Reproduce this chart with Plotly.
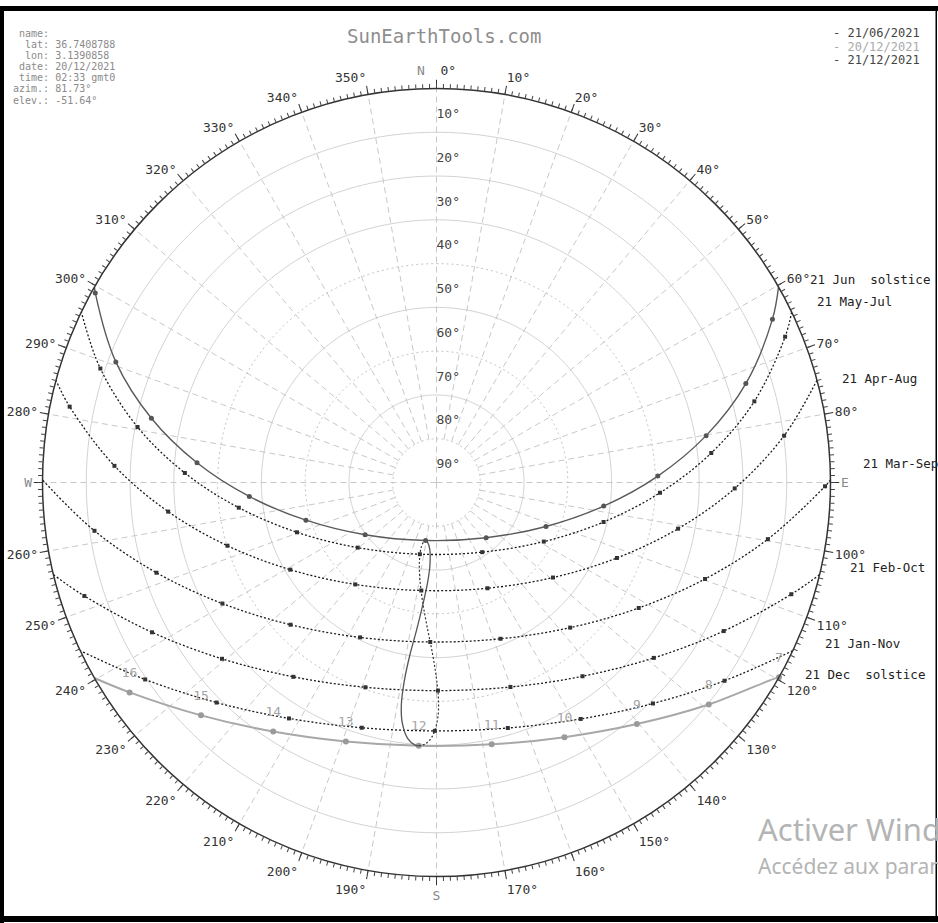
import plotly.graph_objects as go
import numpy as np

FIG_W, FIG_H = 938, 923
CX, CY, R = 436.5, 482.5, 394.0
MONO = "DejaVu Sans Mono"

# ---------------- data (azimuth: deg from N clockwise, elevation: deg) ----------------
# 21 June (solid dark) - hourly points 05..19 UTC
jun_az = [64.07, 72.27, 80.14, 88.34, 98.03, 111.87, 138.04, 190.67, 233.81, 253.90, 265.74, 274.71, 282.70, 290.61, 299.06]
jun_el = [4.67, 15.82, 27.49, 39.43, 51.43, 63.05, 73.03, 76.53, 69.79, 58.96, 47.13, 35.11, 23.24, 11.74, 0.83]
jun_rise_set = [60.24, 299.76]

# 21 May-Jul (dotted)
may_az = [67.31, 75.68, 83.87, 92.63, 103.30, 118.83, 146.73, 193.08, 230.42, 250.36, 262.74, 272.17, 280.52, 288.73]
may_el = [3.68, 15.07, 26.88, 38.89, 50.78, 62.02, 70.97, 73.18, 66.65, 56.16, 44.47, 32.48, 20.54, 8.92]
may_rise_set = [64.35, 295.65]

# 21 Apr-Aug (dotted)
apr_az = [82.33, 91.14, 100.82, 112.70, 129.21, 154.28, 188.03, 218.56, 239.19, 253.18, 263.81, 272.96, 281.68]
apr_el = [9.88, 21.87, 33.82, 45.33, 55.66, 63.19, 65.08, 60.23, 51.12, 40.11, 28.35, 16.34, 4.43]
apr_rise_set = [74.96, 285.04]

# 21 Mar-Sep (dotted)
mar_az = [90.56, 99.70, 109.76, 121.82, 137.35, 157.73, 182.24, 206.26, 225.74, 240.52, 252.14, 261.96]
mar_el = [1.24, 13.21, 24.82, 35.64, 44.93, 51.43, 53.54, 50.55, 43.45, 33.82, 22.80, 11.10]
mar_rise_set = [89.63, 270.37]

# 21 Feb-Oct (dotted)
feb_az = [107.48, 117.35, 128.91, 143.00, 160.13, 179.60, 199.13, 216.38, 230.58, 242.23, 252.14]
feb_el = [5.03, 16.14, 26.21, 34.58, 40.33, 42.46, 40.49, 34.87, 26.58, 16.56, 5.49]
feb_rise_set = [103.52, 256.48]

# 21 Jan-Nov (dotted)
jan_az = [124.54, 135.59, 148.63, 163.80, 180.39, 196.95, 212.02, 224.98, 235.94]
jan_el = [10.13, 19.34, 26.74, 31.60, 33.26, 31.44, 26.44, 18.94, 9.67]
jan_rise_set = [115.27, 244.73]

# 20 December (light grey, selected date) - hourly points 07..16 UTC
dec_hours = ["7", "8", "9", "10", "11", "12", "13", "14", "15", "16"]
dec_az = [119.62, 129.20, 140.32, 153.32, 168.10, 183.86, 199.28, 213.25, 225.32, 235.63]
dec_el = [0.0, 9.76, 18.31, 24.90, 28.88, 29.73, 27.31, 21.97, 14.35, 5.07]
dec_rise_set = [119.75, 240.25]

# analemma at 12:00 UTC : Jun 21 -> Dec 20 (solid), Dec 20 -> Jun 21 (dotted)
ana2_az = [190.67, 188.59, 185.79, 184.55, 185.05, 186.51, 187.68, 188.80, 189.21, 188.98, 188.08, 186.45, 184.65, 183.86]
ana2_el = [76.53, 76.22, 74.69, 71.20, 67.19, 61.41, 56.04, 49.90, 44.43, 38.51, 34.46, 31.19, 29.82, 29.73]
ana1_az = [183.86, 182.47, 180.92, 179.72, 179.48, 180.06, 181.33, 183.97, 186.79, 190.00, 192.27, 193.26, 191.87, 190.67]
ana1_el = [29.73, 30.22, 32.06, 36.06, 40.36, 45.46, 50.86, 57.50, 62.82, 67.97, 71.70, 74.92, 76.32, 76.53]

# labels
curve_labels = ["21 Jun\u00a0\u00a0solstice", "21 May-Jul", "21 Apr-Aug", "21 Mar-Sep",
                "21 Feb-Oct", "21 Jan-Nov", "21 Dec\u00a0\u00a0solstice"]
legend_labels = ["- 21/06/2021", "- 20/12/2021", "- 21/12/2021"]
info_keys = ["name:", "lat:", "lon:", "date:", "time:", "azim.:", "elev.:"]
info_vals = ["", "36.7408788", "3.1390858", "20/12/2021", "02:33 gmt0", "81.73°", "-51.64°"]
elev_labels = [10, 20, 30, 40, 50, 60, 70, 80, 90]
az_ticks = list(range(0, 360, 10))
cardinals = {0: "N", 90: "E", 180: "S", 270: "W"}

# ---------------- helpers ----------------
def zen(el):
    return [90 - e for e in el]

def px(x):
    return x / FIG_W

def py(y):
    return 1 - y / FIG_H

def dom(d):
    return dict(x=[px(CX - R - d), px(CX + R + d)], y=[py(CY + R + d), py(CY - R - d)])

fig = go.Figure()

# ---------------- grid ----------------
ring_theta = list(np.arange(0, 360.5, 1.0))
solid_r, solid_t, dot_r, dot_t = [], [], [], []
for e in [70, 50, 30, 20, 10]:
    solid_r += [90 - e] * len(ring_theta) + [None]
    solid_t += ring_theta + [None]
for e in [80, 60, 40]:
    dot_r += [90 - e] * len(ring_theta) + [None]
    dot_t += ring_theta + [None]
fig.add_trace(go.Scatterpolar(r=solid_r, theta=solid_t, mode="lines",
                              line=dict(color="#d2d2d2", width=1), hoverinfo="skip"))
fig.add_trace(go.Scatterpolar(r=dot_r, theta=dot_t, mode="lines",
                              line=dict(color="#c4c4c4", width=1, dash="2px,3px"), hoverinfo="skip"))
ray_r, ray_t = [], []
for a in az_ticks:
    inner = 0 if a % 90 == 0 else 10
    ray_r += [inner, 90, None]
    ray_t += [a, a, None]
fig.add_trace(go.Scatterpolar(r=ray_r, theta=ray_t, mode="lines",
                              line=dict(color="#c8c8c8", width=1, dash="6px,4px"), hoverinfo="skip"))

# radial (elevation) labels
fig.add_trace(go.Scatterpolar(r=[90 - e + 4 for e in elev_labels], theta=[0] * len(elev_labels),
                              mode="text", text=[f"{e}°" for e in elev_labels], textposition="middle right",
                              textfont=dict(family=MONO, size=13, color="#444"), hoverinfo="skip"))

# ---------------- dotted month curves ----------------
dotted = [(may_az, may_el, may_rise_set), (apr_az, apr_el, apr_rise_set), (mar_az, mar_el, mar_rise_set),
          (feb_az, feb_el, feb_rise_set), (jan_az, jan_el, jan_rise_set)]
for az, el, rs in dotted:
    fig.add_trace(go.Scatterpolar(r=[90] + zen(el) + [90], theta=[rs[0]] + az + [rs[1]], mode="lines",
                                  line=dict(color="#1a1a1a", width=1.3, dash="2px,2px", shape="spline"),
                                  hoverinfo="skip"))
    fig.add_trace(go.Scatterpolar(r=zen(el), theta=az, mode="markers",
                                  marker=dict(symbol="square", size=4, color="#333"), hoverinfo="skip"))

# ---------------- 20 Dec (grey) ----------------
fig.add_trace(go.Scatterpolar(r=[90] + zen(dec_el) + [90], theta=[dec_rise_set[0]] + dec_az + [dec_rise_set[1]],
                              mode="lines", line=dict(color="#a8a8a8", width=2, shape="spline"), hoverinfo="skip"))
fig.add_trace(go.Scatterpolar(r=zen(dec_el), theta=dec_az, mode="markers",
                              marker=dict(symbol="circle", size=6, color="#9a9a9a"), hoverinfo="skip"))
fig.add_trace(go.Scatterpolar(r=zen(dec_el), theta=dec_az, mode="markers+text", text=dec_hours,
                              textposition="top center", marker=dict(size=18, opacity=0),
                              textfont=dict(family=MONO, size=13, color="#a5a5a5"), hoverinfo="skip"))

# ---------------- analemma ----------------
fig.add_trace(go.Scatterpolar(r=zen(ana1_el), theta=ana1_az, mode="lines",
                              line=dict(color="#333", width=1.2, dash="2px,2px", shape="spline"), hoverinfo="skip"))
fig.add_trace(go.Scatterpolar(r=zen(ana2_el), theta=ana2_az, mode="lines",
                              line=dict(color="#555", width=1.3, shape="spline"), hoverinfo="skip"))

# ---------------- 21 June (solid) ----------------
fig.add_trace(go.Scatterpolar(r=[90] + zen(jun_el) + [90], theta=[jun_rise_set[0]] + jun_az + [jun_rise_set[1]],
                              mode="lines", line=dict(color="#5a5a5a", width=1.4, shape="spline"), hoverinfo="skip"))
fig.add_trace(go.Scatterpolar(r=zen(jun_el), theta=jun_az, mode="markers",
                              marker=dict(symbol="circle", size=5, color="#555"), hoverinfo="skip"))

# dummy traces for tick-only subplots
for sp in ["polar2", "polar3"]:
    fig.add_trace(go.Scatterpolar(r=[0], theta=[0], subplot=sp, mode="markers",
                                  marker=dict(size=1, opacity=0), hoverinfo="skip"))

# ---------------- axes ----------------
tick_text = []
for a in az_ticks:
    if a == 0:
        tick_text.append('<span style="color:#888">N</span>\u00a0\u00a00°')
    elif a in cardinals:
        tick_text.append(f'<span style="color:#888">{cardinals[a]}</span>')
    else:
        tick_text.append(f"{a}°")

radial_hidden = dict(range=[0, 90], visible=False, showgrid=False)
fig.update_layout(
    width=FIG_W, height=FIG_H, autosize=False,
    margin=dict(l=0, r=0, t=0, b=0),
    paper_bgcolor="white", showlegend=False,
    polar=dict(domain=dom(0), bgcolor="white", radialaxis=radial_hidden,
               angularaxis=dict(rotation=90, direction="clockwise", showgrid=False, showline=True,
                                linecolor="#333", linewidth=1.5, ticks="outside", ticklen=8, tickwidth=1,
                                tickcolor="#333", tickmode="array", tickvals=az_ticks, showticklabels=False)),
    polar2=dict(domain=dom(0), bgcolor="rgba(0,0,0,0)", radialaxis=radial_hidden,
                angularaxis=dict(rotation=90, direction="clockwise", showgrid=False, showline=False,
                                 ticks="outside", ticklen=4, tickwidth=1, tickcolor="#444",
                                 tickmode="array", tickvals=list(range(0, 360, 1)), showticklabels=False)),
    polar3=dict(domain=dom(10), bgcolor="rgba(0,0,0,0)", radialaxis=radial_hidden,
                angularaxis=dict(rotation=90, direction="clockwise", showgrid=False, showline=False,
                                 ticks="", tickmode="array", tickvals=az_ticks, ticktext=tick_text,
                                 tickfont=dict(family=MONO, size=13, color="#333"))),
)

# ---------------- annotations ----------------
ann = []
ann.append(dict(x=px(444), y=py(36), text="SunEarthTools.com", showarrow=False, xanchor="center", yanchor="middle",
                font=dict(family=MONO, size=19, color="#8e8e8e")))
info_y = [33, 44.2, 55.4, 66.6, 77.8, 89.0, 100.2]
for k, v, yy in zip(info_keys, info_vals, info_y):
    txt = (k.rjust(6) + " " + v).replace(" ", "\u00a0")
    ann.append(dict(x=px(11), y=py(yy), text=txt, showarrow=False, xanchor="left", yanchor="middle",
                    font=dict(family=MONO, size=10, color="#8a8a8a")))
leg_colors = ["#444", "#aaa", "#444"]
leg_y = [33, 47, 60]
for t, c, yy in zip(legend_labels, leg_colors, leg_y):
    ann.append(dict(x=px(831), y=py(yy), text=t, showarrow=False, xanchor="left", yanchor="middle",
                    font=dict(family=MONO, size=12, color=c)))
lab_pos = [(808, 279), (815, 302), (840, 378), (861, 464), (848, 567), (823, 643), (803, 674)]
for t, (xx, yy) in zip(curve_labels, lab_pos):
    ann.append(dict(x=px(xx), y=py(yy), text=t, showarrow=False, xanchor="left", yanchor="middle",
                    font=dict(family=MONO, size=12.5, color="#222")))
ann.append(dict(x=px(756), y=py(829), text="Activer Windows", showarrow=False, xanchor="left", yanchor="middle",
                font=dict(family="Noto Sans", size=31, color="#b4b4b4")))
ann.append(dict(x=px(756), y=py(866), text="Accédez aux paramètres pour activer Windows.", showarrow=False,
                xanchor="left", yanchor="middle", font=dict(family="Noto Sans", size=21, color="#b4b4b4")))
fig.update_layout(annotations=ann)

# ---------------- frame ----------------
shapes = [
    dict(type="rect", xref="paper", yref="paper", x0=0, x1=px(4), y0=0, y1=py(6), fillcolor="black", line_width=0),
    dict(type="rect", xref="paper", yref="paper", x0=0, x1=1, y0=py(11), y1=py(6), fillcolor="black", line_width=0),
    dict(type="rect", xref="paper", yref="paper", x0=0, x1=1, y0=py(922), y1=py(916), fillcolor="black", line_width=0),
    dict(type="rect", xref="paper", yref="paper", x0=px(935.5), x1=px(937), y0=py(916), y1=py(6), fillcolor="black", line_width=0),
]
fig.update_layout(shapes=shapes)

fig.write_html("out.html", config={"displayModeBar": False},
               post_script="document.body.style.margin='0px';document.body.style.overflow='hidden';")
